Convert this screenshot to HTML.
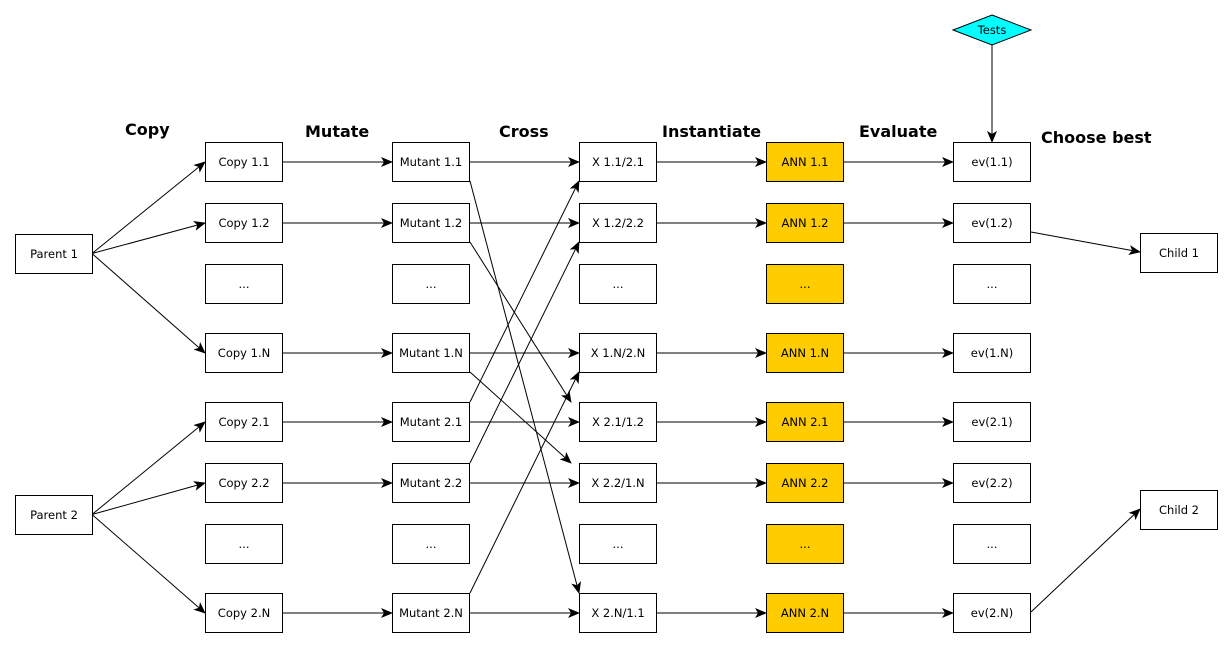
<!DOCTYPE html>
<html><head><meta charset="utf-8"><style>
html,body{margin:0;padding:0;background:#fff;}
svg{display:block;font-family:"DejaVu Sans","Liberation Sans",sans-serif;}
</style></head><body>
<svg id="d" width="1232" height="647" viewBox="0 0 1232 647" xmlns="http://www.w3.org/2000/svg">
<defs><marker id="ah" markerWidth="12" markerHeight="10" refX="11" refY="5" orient="auto" markerUnits="userSpaceOnUse"><path d="M0,0 L12,5 L0,10 L3,5 Z" fill="#000"/></marker></defs>
<g id="edges"></g>
<g id="nodes"></g>
<g font-weight="bold" font-size="16" fill="#000">
<text x="125" y="135">Copy</text>
<text x="305" y="137">Mutate</text>
<text x="499" y="137">Cross</text>
<text x="662" y="137">Instantiate</text>
<text x="859" y="137">Evaluate</text>
<text x="1041" y="143">Choose best</text>
</g>
</svg>
<script>
const NS="http://www.w3.org/2000/svg";
const cols=[15,205,392,579,766,953,1140];
const rows=[142,203,264,333,402,463,524,593];
const rowIds=["1.1","1.2","...","1.N","2.1","2.2","...","2.N"];
const xLabels=["X 1.1/2.1","X 1.2/2.2","...","X 1.N/2.N","X 2.1/1.2","X 2.2/1.N","...","X 2.N/1.1"];
const W=77,H=39;
const nodes=document.getElementById('nodes'),edges=document.getElementById('edges');
function box(x,y,label,fill,name){
  const g=document.createElementNS(NS,'g');
  
  
  const r=document.createElementNS(NS,'rect');
  r.setAttribute('x',x+0.5);r.setAttribute('y',y+0.5);r.setAttribute('width',W);r.setAttribute('height',H);
  r.setAttribute('fill',fill);r.setAttribute('stroke','#000');
  const t=document.createElementNS(NS,'text');
  t.setAttribute('x',x+W/2+0.5);t.setAttribute('y',y+H/2+4.5);t.setAttribute('text-anchor','middle');t.setAttribute('font-size','11.5');
  t.textContent=label;
  g.appendChild(r);g.appendChild(t);nodes.appendChild(g);
}
function arrow(x1,y1,x2,y2,name){
  const l=document.createElementNS(NS,'line');
  
  
  l.setAttribute('x1',x1);l.setAttribute('y1',y1);l.setAttribute('x2',x2);l.setAttribute('y2',y2);
  l.setAttribute('stroke','#000');l.setAttribute('marker-end','url(#ah)');
  edges.appendChild(l);
}
box(cols[0],234,"Parent 1","#fff","parent-1");
box(cols[0],495,"Parent 2","#fff","parent-2");
box(cols[6],233,"Child 1","#fff","child-1");
box(cols[6],490,"Child 2","#fff","child-2");
rows.forEach((y,i)=>{
  const id=rowIds[i],dots=id==="...";
  box(cols[1],y,dots?"...":"Copy "+id,"#fff","copy-box");
  box(cols[2],y,dots?"...":"Mutant "+id,"#fff","mutant-box");
  box(cols[3],y,xLabels[i],"#fff","cross-box");
  box(cols[4],y,dots?"...":"ANN "+id,"#ffcc00","ann-box");
  box(cols[5],y,dots?"...":"ev("+id+")","#fff","eval-box");
  if(!dots){
    const m=y+H/2+0.5;
    for(let c=1;c<5;c++) arrow(cols[c]+W+1,m,cols[c+1],m,"stage-arrow");
    const p=i<4?253.5:514.5;
    arrow(92,p,cols[1],m,"parent-to-copy-arrow");
  }
});
const cross=[[0,7],[1,4],[3,5],[4,0],[5,1],[7,3]];
cross.forEach(([a,b])=>{
  const y1=a<b?rows[a]+H:rows[a], y2=a<b?rows[b]:rows[b]+H;
  const x2=a<b&&b!==7?cols[3]-8:cols[3];
  arrow(cols[2]+W+1,y1,x2,y2,"cross-arrow");
});
arrow(1031,232,1140,252,"select-child-1-arrow");
arrow(1031,612,1140,509,"select-child-2-arrow");
const tg=document.createElementNS(NS,'g');


tg.innerHTML='<polygon points="992,15 1031,30 992,45 953,30" fill="#00ffff" stroke="#000"/><text x="992" y="34" text-anchor="middle" font-size="11.5">Tests</text>';
nodes.appendChild(tg);
arrow(992,45,992,142,"tests-to-eval-arrow");
</script>
</body></html>
